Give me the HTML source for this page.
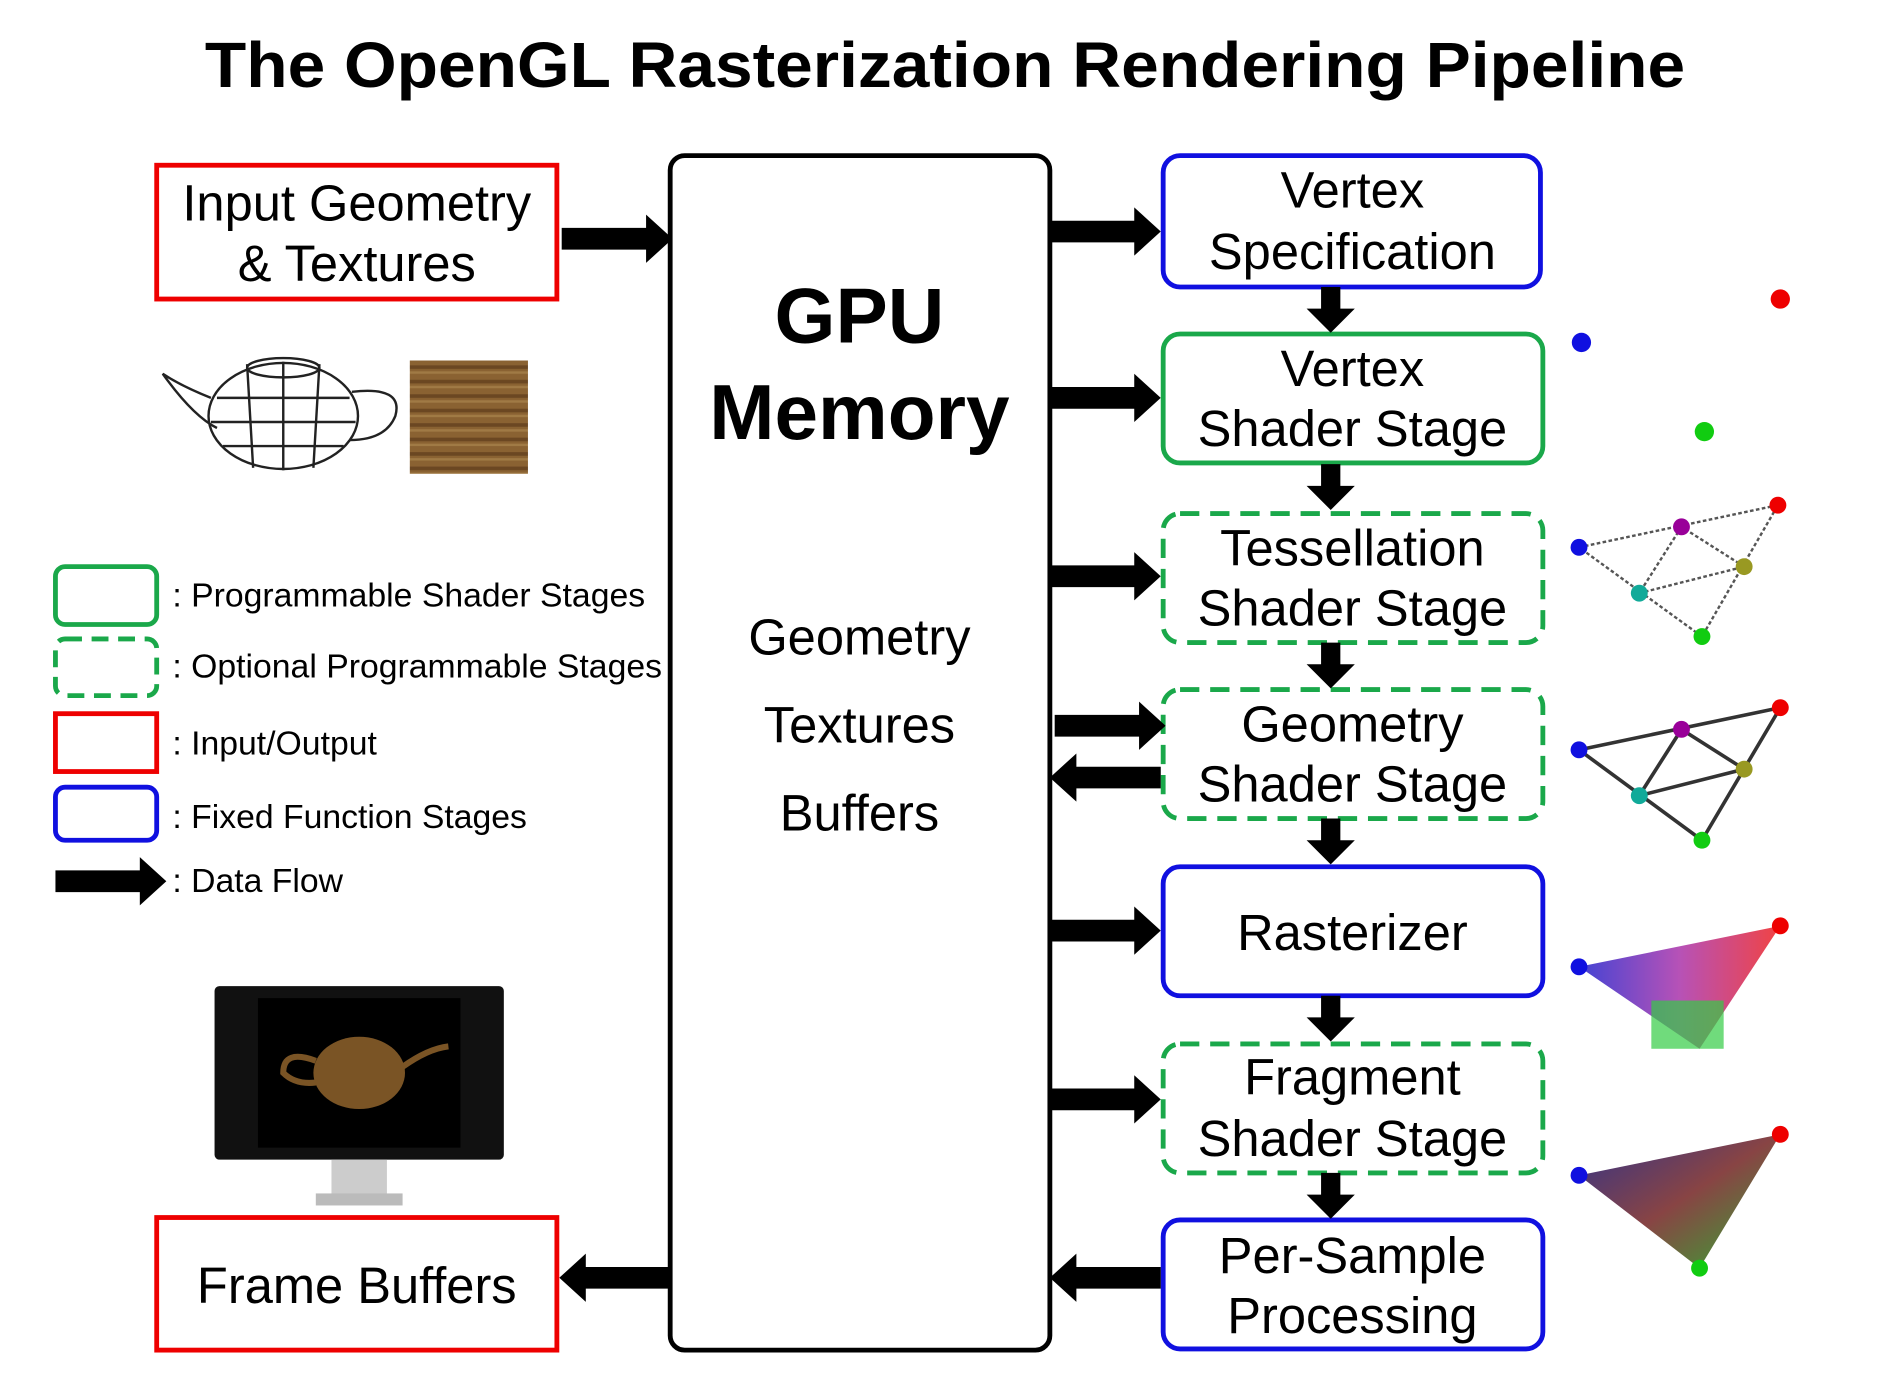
<!DOCTYPE html>
<html><head><meta charset="utf-8"><style>
html,body{margin:0;padding:0;background:#fff;}
svg{display:block;}
text{font-family:"Liberation Sans",Arial,sans-serif;}
</style></head><body>
<svg width="1890" height="1390" viewBox="0 0 1568 1153" xmlns="http://www.w3.org/2000/svg">
<defs>
<g id="ar"><polygon points="0,-9 70,-9 70,-20 92,0 70,20 70,9 0,9" fill="#000"/></g>
<g id="dn"><polygon points="-8,0 8,0 8,18 20,18 0,38 -20,18 -8,18" fill="#000"/></g>
<pattern id="wood" width="100" height="12" patternUnits="userSpaceOnUse"><rect width="100" height="12" fill="#8a6232"/><rect y="3" width="100" height="3" fill="#6b4722"/><rect y="8" width="100" height="2" fill="#a07a45"/></pattern>
</defs>
<text x="170" y="72" font-size="53" font-weight="bold" textLength="1228" lengthAdjust="spacingAndGlyphs">The OpenGL Rasterization Rendering Pipeline</text>

<!-- Input -->
<rect x="130" y="137" width="332" height="111" fill="#fff" stroke="#e00" stroke-width="4"/>
<text x="296" y="183" font-size="42" text-anchor="middle">Input Geometry</text>
<text x="296" y="233" font-size="42" text-anchor="middle">&amp; Textures</text>
<use href="#ar" x="466" y="198"/>
<!-- teapot -->
<g fill="none" stroke="#222" stroke-width="2">
<ellipse cx="235" cy="345" rx="62" ry="44"/>
<path d="M175 330 Q150 320 135 310 Q160 345 180 355"/>
<path d="M292 325 Q335 320 328 345 Q320 365 290 365"/>
<ellipse cx="235" cy="305" rx="30" ry="8"/>
<path d="M180 330 L290 330 M175 350 L295 350 M185 370 L285 370 M205 302 L210 388 M235 300 L235 390 M265 302 L260 388"/>
</g>
<rect x="340" y="299" width="98" height="94" fill="url(#wood)"/>

<!-- Legend -->
<rect x="46" y="470" width="84" height="48" rx="8" fill="none" stroke="#1aa84a" stroke-width="4"/>
<rect x="46" y="530" width="84" height="47" rx="8" fill="none" stroke="#1aa84a" stroke-width="4" stroke-dasharray="14,8"/>
<rect x="46" y="592" width="84" height="48" fill="none" stroke="#e00" stroke-width="4"/>
<rect x="46" y="653" width="84" height="44" rx="8" fill="none" stroke="#1010e0" stroke-width="4"/>
<use href="#ar" x="46" y="731"/>
<g font-size="28">
<text x="143" y="503">: Programmable Shader Stages</text>
<text x="143" y="562">: Optional Programmable Stages</text>
<text x="143" y="626">: Input/Output</text>
<text x="143" y="687">: Fixed Function Stages</text>
<text x="143" y="740">: Data Flow</text>
</g>

<!-- Monitor -->
<rect x="178" y="818" width="240" height="144" rx="4" fill="#111"/>
<rect x="214" y="828" width="168" height="124" fill="#000"/>
<ellipse cx="298" cy="890" rx="38" ry="30" fill="#7a5425"/>
<path d="M262 880 Q235 870 235 890 Q245 900 262 898" fill="none" stroke="#7a5425" stroke-width="5"/>
<path d="M334 885 Q355 870 372 868" fill="none" stroke="#7a5425" stroke-width="5"/>
<rect x="275" y="962" width="46" height="30" fill="#ccc"/>
<rect x="262" y="990" width="72" height="10" fill="#bbb"/>

<!-- Frame buffers -->
<rect x="130" y="1010" width="332" height="110" fill="#fff" stroke="#e00" stroke-width="4"/>
<text x="296" y="1081" font-size="42" text-anchor="middle">Frame Buffers</text>
<use href="#ar" x="556" y="1060" transform="rotate(180 556 1060)"/>

<!-- GPU memory -->
<rect x="556" y="129" width="315" height="991" rx="12" fill="#fff" stroke="#000" stroke-width="4"/>
<text x="713" y="284" font-size="65" font-weight="bold" text-anchor="middle">GPU</text>
<text x="713" y="364" font-size="65" font-weight="bold" text-anchor="middle">Memory</text>
<text x="713" y="543" font-size="42" text-anchor="middle">Geometry</text>
<text x="713" y="616" font-size="42" text-anchor="middle">Textures</text>
<text x="713" y="689" font-size="42" text-anchor="middle">Buffers</text>

<!-- Stage boxes -->
<g fill="none" stroke-width="4">
<rect x="965" y="129" width="313" height="109" rx="14" stroke="#1010e0"/>
<rect x="965" y="277" width="315" height="107" rx="14" stroke="#1aa84a"/>
<rect x="965" y="426" width="315" height="107" rx="14" stroke="#1aa84a" stroke-dasharray="16,9"/>
<rect x="965" y="572" width="315" height="107" rx="14" stroke="#1aa84a" stroke-dasharray="16,9"/>
<rect x="965" y="719" width="315" height="107" rx="14" stroke="#1010e0"/>
<rect x="965" y="866" width="315" height="107" rx="14" stroke="#1aa84a" stroke-dasharray="16,9"/>
<rect x="965" y="1012" width="315" height="107" rx="14" stroke="#1010e0"/>
</g>
<g font-size="42" text-anchor="middle">
<text x="1122" y="172">Vertex</text><text x="1122" y="223">Specification</text>
<text x="1122" y="320">Vertex</text><text x="1122" y="370">Shader Stage</text>
<text x="1122" y="469">Tessellation</text><text x="1122" y="519">Shader Stage</text>
<text x="1122" y="615">Geometry</text><text x="1122" y="665">Shader Stage</text>
<text x="1122" y="788">Rasterizer</text>
<text x="1122" y="908">Fragment</text><text x="1122" y="959">Shader Stage</text>
<text x="1122" y="1056">Per-Sample</text><text x="1122" y="1106">Processing</text>
</g>

<!-- arrows from memory -->
<use href="#ar" x="871" y="192"/>
<use href="#ar" x="871" y="330"/>
<use href="#ar" x="871" y="478"/>
<use href="#ar" x="875" y="602"/>
<use href="#ar" transform="rotate(180 918 645) translate(-45 0)" x="918" y="645"/>
<use href="#ar" x="871" y="772"/>
<use href="#ar" x="871" y="912"/>
<use href="#ar" transform="rotate(180 918 1060) translate(-45 0)" x="918" y="1060"/>

<!-- down arrows -->
<use href="#dn" x="1104" y="238"/>
<use href="#dn" x="1104" y="385"/>
<use href="#dn" x="1104" y="533"/>
<use href="#dn" x="1104" y="679"/>
<use href="#dn" x="1104" y="826"/>
<use href="#dn" x="1104" y="973"/>

<!-- right illustrations -->
<circle cx="1477" cy="248" r="8" fill="#e00"/>
<circle cx="1312" cy="284" r="8" fill="#1010e0"/>
<circle cx="1414" cy="358" r="8" fill="#1c1"/>
<g stroke="#555" stroke-width="2" stroke-dasharray="3,2" fill="none">
<path d="M1310 454 L1475 419 L1412 528 Z M1395 437 L1360 492 L1447 470 Z"/>
</g>
<g fill="none" stroke="#333" stroke-width="3">
<path d="M1310 622 L1477 587 L1412 697 Z M1395 605 L1360 660 L1447 638 Z"/>
</g>
<g>
<circle cx="1310" cy="454" r="7" fill="#1010e0"/><circle cx="1475" cy="419" r="7" fill="#e00"/><circle cx="1412" cy="528" r="7" fill="#1c1"/>
<circle cx="1395" cy="437" r="7" fill="#909"/><circle cx="1360" cy="492" r="7" fill="#1a9"/><circle cx="1447" cy="470" r="7" fill="#992"/>
<circle cx="1310" cy="622" r="7" fill="#1010e0"/><circle cx="1477" cy="587" r="7" fill="#e00"/><circle cx="1412" cy="697" r="7" fill="#1c1"/>
<circle cx="1395" cy="605" r="7" fill="#909"/><circle cx="1360" cy="660" r="7" fill="#1a9"/><circle cx="1447" cy="638" r="7" fill="#992"/>
</g>
<defs><linearGradient id="rg" x1="0" y1="0" x2="1" y2="0"><stop offset="0" stop-color="#22c"/><stop offset="0.5" stop-color="#a3a"/><stop offset="1" stop-color="#e22"/></linearGradient>
<linearGradient id="fg" x1="0" y1="0" x2="1" y2="1"><stop offset="0" stop-color="#338"/><stop offset="0.5" stop-color="#844"/><stop offset="1" stop-color="#3a3"/></linearGradient></defs>
<polygon points="1310,802 1477,768 1410,870" fill="url(#rg)" opacity="0.85"/>
<rect x="1370" y="830" width="60" height="40" fill="#3c4" opacity="0.7"/>
<circle cx="1310" cy="802" r="7" fill="#1010e0"/><circle cx="1477" cy="768" r="7" fill="#e00"/>
<polygon points="1310,975 1477,941 1410,1052" fill="url(#fg)"/>
<circle cx="1310" cy="975" r="7" fill="#1010e0"/><circle cx="1477" cy="941" r="7" fill="#e00"/><circle cx="1410" cy="1052" r="7" fill="#1c1"/>
</svg>
</body></html>
